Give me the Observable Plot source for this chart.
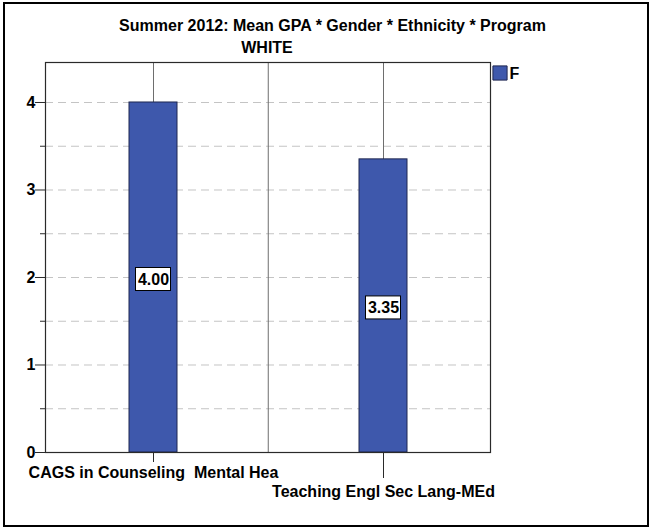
<!DOCTYPE html>
<html>
<head>
<meta charset="utf-8">
<script src="https://cdn.jsdelivr.net/npm/d3@7"></script>
<script src="https://cdn.jsdelivr.net/npm/@observablehq/plot@0.6"></script>
<style>
  html, body { margin: 0; padding: 0; background: #fff; }
  #wrap { position: relative; width: 650px; height: 528px; overflow: hidden; }
  #border { position: absolute; left: 3px; top: 2px; width: 642px; height: 521px; border: 2px solid #000; pointer-events: none; }
  #wrap svg { position: absolute; left: 0; top: 0; }
  #wrap svg text { white-space: pre; }
</style>
</head>
<body>
<div id="wrap"><div id="border"></div></div>
<script>
const title = "Summer 2012: Mean GPA * Gender * Ethnicity * Program";
const subtitle = "WHITE";
const categories = ["CAGS in Counseling  Mental Hea", "Teaching Engl Sec Lang-MEd"];
const gpa = [4.00, 3.35];
const valueLabels = ["4.00", "3.35"];
const legendLabels = ["F"];
const yTicks = [0, 1, 2, 3, 4];
const yMinorTicks = [0.5, 1.5, 2.5, 3.5];
const gridValues = [0.5, 1, 1.5, 2, 2.5, 3, 3.5, 4];

const data = categories.map((c, i) => ({program: c, gpa: gpa[i], label: valueLabels[i]}));

const barFill = "#3e58ac";
const barStroke = "#1f2750";
const font = "'Liberation Sans', Arial, sans-serif";

const chart = Plot.plot({
  width: 650,
  height: 528,
  marginTop: 62,
  marginBottom: 76,
  marginLeft: 45,
  marginRight: 160,
  style: {fontFamily: font, fontSize: "16px", color: "#000", background: "transparent"},
  x: {type: "band", domain: categories, range: [37, 498], padding: 0, axis: null},
  y: {domain: [0, 4.457], axis: null},
  marks: [
    Plot.ruleY(gridValues, {stroke: "#c4c4c4", strokeDasharray: "8,5", strokeWidth: 1}),
    Plot.ruleX(categories, {stroke: "#6e6e6e", strokeWidth: 1}),
    Plot.ruleX([categories[0]], {stroke: "#6e6e6e", strokeWidth: 1, dx: 114.75}),
    Plot.barY(data, {x: "program", y: "gpa", fill: barFill, stroke: barStroke, strokeWidth: 1, insetLeft: 91, insetRight: 91}),
    Plot.barY(data, {x: "program", y1: d => d.gpa / 2, y2: d => d.gpa / 2, fill: "#fff", stroke: "#000", strokeWidth: 1,
      insetLeft: 97.5, insetRight: 97.5, insetTop: -9.5, insetBottom: -13.5}),
    Plot.text(data, {x: "program", y: d => d.gpa / 2, text: "label", dy: 2, fontSize: 16, fontWeight: "bold", fill: "#000"}),
    Plot.frame({stroke: "#2a2a2a", strokeWidth: 1.2}),
    Plot.ruleY(yTicks, {stroke: "#2a2a2a", insetLeft: -10, insetRight: 445}),
    Plot.ruleY(yMinorTicks, {stroke: "#2a2a2a", insetLeft: -5, insetRight: 445}),
    Plot.text(yTicks, {y: d => d, text: d => String(d), frameAnchor: "left", textAnchor: "end", dx: -10, fontSize: 16, fontWeight: "bold"}),
    Plot.ruleX([categories[0]], {y1: 0, y2: 0, insetTop: 0, insetBottom: -10, stroke: "#2a2a2a"}),
    Plot.ruleX([categories[1]], {y1: 0, y2: 0, insetTop: 0, insetBottom: -26, stroke: "#2a2a2a"}),
    Plot.text([categories[0]], {x: d => d, frameAnchor: "bottom", dy: 20, lineAnchor: "middle", fontSize: 16, fontWeight: "bold"}),
    Plot.text([categories[1]], {x: d => d, frameAnchor: "bottom", dy: 39, lineAnchor: "middle", fontSize: 16, fontWeight: "bold"}),
    Plot.text([title], {text: d => d, frameAnchor: "top", dx: 64.5, dy: -37, lineAnchor: "middle", fontSize: 16, fontWeight: "bold"}),
    Plot.text([subtitle], {text: d => d, frameAnchor: "top", dx: -1, dy: -15, lineAnchor: "middle", fontSize: 16, fontWeight: "bold"}),
    Plot.dot(legendLabels, {frameAnchor: "top-right", symbol: "square", r: 8, dx: 9.5, dy: 10.5, fill: barFill, stroke: barStroke, strokeWidth: 1}),
    Plot.text(legendLabels, {text: d => d, frameAnchor: "top-right", textAnchor: "start", lineAnchor: "middle", dx: 19, dy: 11, fontSize: 16, fontWeight: "bold"})
  ]
});
document.getElementById("wrap").appendChild(chart);
</script>
</body>
</html>
